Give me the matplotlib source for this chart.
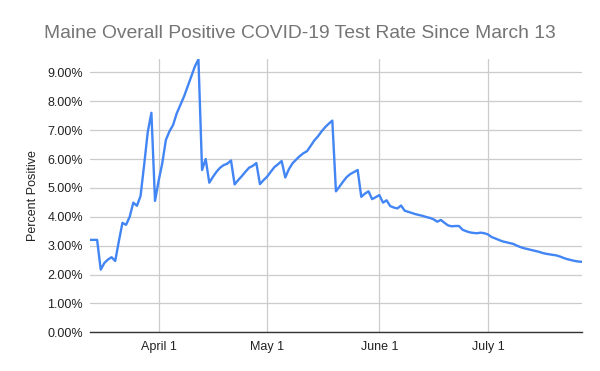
import matplotlib
matplotlib.use("Agg")
import matplotlib.pyplot as plt
import matplotlib.dates as mdates
import numpy as np
import pandas as pd
from matplotlib.ticker import FuncFormatter, MultipleLocator

start_date = "2020-03-13"
positive_rate = [
    3.2, 3.2, 3.2, 2.17, 2.4, 2.52, 2.6, 2.47, 3.15, 3.79,
    3.72, 4.0, 4.49, 4.38, 4.72, 5.8, 6.94, 7.6, 4.55, 5.25,
    5.85, 6.66, 6.96, 7.18, 7.58, 7.87, 8.16, 8.5, 8.85, 9.2,
    9.45, 5.62, 6.0, 5.18, 5.38, 5.56, 5.7, 5.79, 5.84, 5.95,
    5.12, 5.27, 5.41, 5.56, 5.70, 5.76, 5.86, 5.13, 5.27, 5.39,
    5.56, 5.72, 5.82, 5.93, 5.36, 5.65, 5.85, 5.98, 6.1, 6.2,
    6.27, 6.45, 6.64, 6.78, 6.95, 7.1, 7.22, 7.33, 4.88, 5.05,
    5.22, 5.38, 5.48, 5.55, 5.62, 4.69, 4.8, 4.88, 4.61, 4.68,
    4.75, 4.49, 4.57, 4.37, 4.32, 4.29, 4.39, 4.21, 4.17, 4.13,
    4.09, 4.06, 4.03, 3.99, 3.96, 3.91, 3.83, 3.89, 3.79, 3.7,
    3.67, 3.68, 3.68, 3.55, 3.5, 3.46, 3.44, 3.43, 3.45, 3.43,
    3.39, 3.3, 3.25, 3.2, 3.15, 3.12, 3.09, 3.06, 3.0, 2.95,
    2.91, 2.88, 2.85, 2.82, 2.79, 2.75, 2.72, 2.7, 2.68, 2.66,
    2.62, 2.57, 2.53, 2.5, 2.47, 2.45, 2.44,
]
tick_dates = ["2020-04-01", "2020-05-01", "2020-06-01", "2020-07-01"]
tick_labels = ["April 1", "May 1", "June 1", "July 1"]
title = "Maine Overall Positive COVID-19 Test Rate Since March 13"
y_label = "Percent Positive"

dates = pd.date_range(start_date, periods=len(positive_rate), freq="D")

plt.rcParams['font.family'] = ['Liberation Sans', 'DejaVu Sans']

fig = plt.figure(figsize=(6, 3.71), dpi=100)
ax = fig.add_axes([0.1498, 0.1043, 0.97 - 0.1498, 0.840 - 0.1043])

ax.plot(dates, positive_rate, color="#4285F4", linewidth=1.7, solid_joinstyle="round", zorder=3)

ax.set_xlim(dates[0], dates[-1])
ax.set_ylim(0, max(positive_rate))
ax.yaxis.set_major_locator(MultipleLocator(1.0))
ax.yaxis.set_major_formatter(FuncFormatter(lambda v, p: f"{v:.2f}%"))
ax.set_xticks(pd.to_datetime(tick_dates))
ax.set_xticklabels(tick_labels)

ax.grid(True, color="#cccccc", linewidth=0.9, zorder=0)
for s in ["top", "right", "left"]:
    ax.spines[s].set_visible(False)
ax.spines["bottom"].set_color("#333333")
ax.spines["bottom"].set_linewidth(1.0)
ax.tick_params(axis="both", length=0, labelsize=9, colors="#222222")
ax.tick_params(axis="y", pad=5)
ax.tick_params(axis="x", pad=6)

fig.text(0.5, 1 - 33 / 371, title, ha="center", va="center", fontsize=13.9, color="#757575")
fig.text(33 / 600, 0.472, y_label, rotation=90, ha="center", va="center", fontsize=9, color="#222222")

fig.savefig("out.png", dpi=100)
